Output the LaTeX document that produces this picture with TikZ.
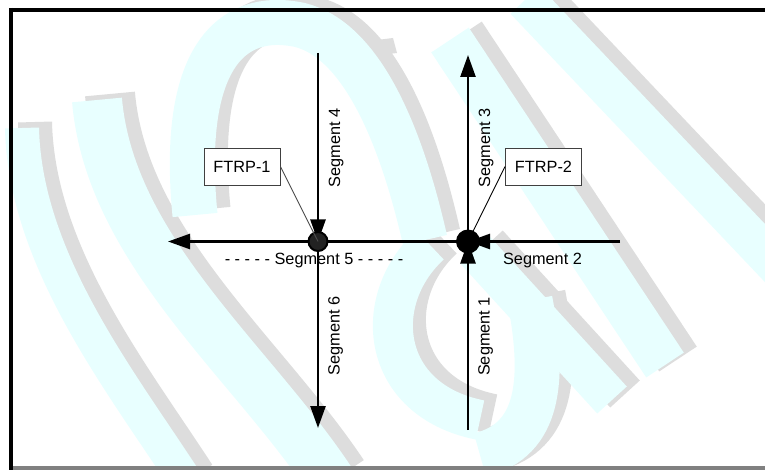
\documentclass[tikz,border=0pt]{standalone}
\usepackage{fontspec}
\setmainfont{Liberation Sans}
\usetikzlibrary{arrows.meta}
\definecolor{wmcyan}{RGB}{232,255,255}
\definecolor{wmgray}{RGB}{221,221,221}
\definecolor{dotfill}{RGB}{34,34,34}
\definecolor{barfill}{RGB}{128,128,128}
\tikzset{
  seg/.style={line width=2.5pt, draw=black},
  tipend/.style={-{Triangle[length=22pt,width=15pt]}},
  leader/.style={line width=0.9pt, draw=black},
  tag/.style={draw=black!75, line width=0.9pt, fill=white, minimum width=76pt,
              minimum height=37pt, inner sep=0pt, font=\fontsize{16.3}{19}\selectfont},
  lbl/.style={inner sep=0pt, font=\fontsize{16.3}{19}\selectfont},
  vlbl/.style={lbl, rotate=90, anchor=base},
  wmc/.style={draw=wmcyan, line cap=butt},
  wmg/.style={draw=wmgray, line cap=butt},
}
\begin{document}
\begin{tikzpicture}[x=1pt,y=-1pt]
\useasboundingbox (0,0) rectangle (765,470);
\fill[white] (0,0) rectangle (765,470);

% light background lettering
\begin{scope}
\clip (0,0) rectangle (765,470);
\begin{scope}[xshift=13pt, yshift=6pt]
  \draw[wmg, line width=34pt] (22,128) .. controls (25,260) and (120,380) .. (185,480);
  \draw[wmg, line width=50pt] (97,100) .. controls (110,250) and (250,360) .. (330,480);
  \draw[wmg, line width=45pt] (195,215) .. controls (180,60) and (230,10) .. (300,25)
        .. controls (360,40) and (400,130) .. (425,240);
  \draw[wmg, line width=40pt] (430,245) .. controls (370,300) and (380,400) .. (480,420);
  \draw[wmg, line width=40pt] (525,0) -- (800,290);
  \draw[wmg, line width=45pt] (450,40) -- (665,365);
  \draw[wmg, line width=40pt] (475,250) -- (612,400);
  \draw[wmg, line width=45pt] (530,300) .. controls (545,380) and (540,440) .. (480,455);
\end{scope}
  \draw[wmc, line width=34pt] (22,128) .. controls (25,260) and (120,380) .. (185,480);
  \draw[wmc, line width=50pt] (97,100) .. controls (110,250) and (250,360) .. (330,480);
  \draw[wmc, line width=45pt] (195,215) .. controls (180,60) and (230,10) .. (300,25)
        .. controls (360,40) and (400,130) .. (425,240);
  \draw[wmc, line width=40pt] (430,245) .. controls (370,300) and (380,400) .. (480,420);
  \draw[wmc, line width=40pt] (525,0) -- (800,290);
  \draw[wmc, line width=45pt] (450,40) -- (665,365);
  \draw[wmc, line width=40pt] (475,250) -- (612,400);
  \draw[wmc, line width=45pt] (530,300) .. controls (545,380) and (540,440) .. (480,455);
  \fill[wmgray] (377,40) -- (393,38) -- (397,53) -- (381,55) -- cycle;
\end{scope}

% frame
\draw[line width=4pt] (9,10) -- (765,10);
\draw[line width=4pt] (11,8) -- (11,470);
\fill[barfill] (13,466) rectangle (765,470);

% end points of the segments
\coordinate (s4top) at (318,53);
\coordinate (s6bot) at (318,428);
\coordinate (s5left) at (168,241.5);
\coordinate (s2right) at (620,241.5);
\coordinate (s3top) at (468,55);
\coordinate (s1bot) at (468,430);

% FTRP points
\node[circle, minimum size=21pt, inner sep=0pt] (f1) at (318,241.5) {};
\node[circle, minimum size=24pt, inner sep=0pt] (f2) at (468,241.5) {};

% segments
\draw[seg, tipend] (f2.center) -- (s5left);
\draw[seg, tipend] (s2right) -- (f2.center);
\draw[seg, tipend] (f2.center) -- (s3top);
\draw[seg, tipend] (s1bot) -- (f2.center);
\draw[seg, tipend] (s4top) -- (f1.center);
\draw[seg, tipend] (f1.center) -- (s6bot);

% labels
\node[tag] (t1) at (242,166.5) {FTRP-1};
\node[tag] (t2) at (543.5,166.5) {FTRP-2};
\draw[leader] (t2.west) -- (f2.center);
\fill[black] (f2) circle (12pt);
\fill[dotfill, draw=black, line width=2pt] (f1) circle (9.5pt);
\draw[leader, draw=black!70] (t1.east) -- (f1.center);

\node[vlbl] (l4) at (340,148) {Segment 4};
\node[vlbl] (l3) at (490,148) {Segment 3};
\node[vlbl] (l6) at (339.5,336) {Segment 6};
\node[vlbl] (l1) at (489.5,336.5) {Segment 1};
\node[lbl, anchor=base] (l2) at (542.5,265) {Segment 2};
\node[lbl, anchor=base] (l5) at (314,265) {- - - - - Segment 5 - - - - -};
\end{tikzpicture}
\end{document}
